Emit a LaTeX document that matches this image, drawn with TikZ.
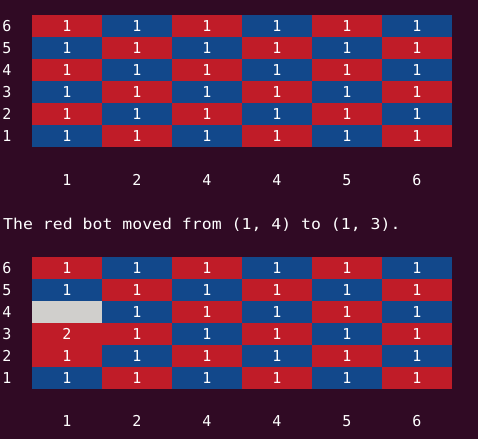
\documentclass[tikz,border=0pt]{standalone}
\usepackage{fontspec}
\setmonofont{DejaVu Sans Mono}
\definecolor{bg}{HTML}{300A24}
\definecolor{cellred}{HTML}{C01C28}
\definecolor{cellblue}{HTML}{12488B}
\definecolor{cellgray}{HTML}{D0CFCC}
\definecolor{fg}{HTML}{FFFFFF}
\begin{document}
\begin{tikzpicture}[x=1pt,y=-1pt,
  cell/.style={minimum width=70pt, minimum height=22pt, inner sep=0pt, outer sep=0pt,
    text=fg, font=\ttfamily\fontsize{15}{15}\selectfont},
  lbl/.style={inner sep=0pt, text=fg, text height=11pt, text depth=0pt,
    font=\ttfamily\fontsize{15}{15}\selectfont},
  msgstyle/.style={anchor=base west, inner sep=0pt, text=fg, font=\ttfamily\fontsize{15}{15}\selectfont}]
\fill[bg] (0,0) rectangle (478,439);
\useasboundingbox (0,0) rectangle (478,439);
\def\keyA{b-1-4}
\def\keyB{b-1-3}
\foreach \g/\top/\colhead in {a/15/180,b/257/421} {
  \foreach \c in {1,...,6} {
    \foreach \r in {1,...,6} {
      \pgfmathtruncatemacro\p{mod(\c+\r,2)}
      \ifnum\p=1 \def\col{cellred}\else\def\col{cellblue}\fi
      \def\txt{1}
      \edef\key{\g-\c-\r}
      \ifx\key\keyA \def\col{cellgray}\def\txt{}\fi
      \ifx\key\keyB \def\col{cellred}\def\txt{2}\fi
      \node[cell, fill=\col] (\g-\c-\r) at ({32+70*(\c-0.5)}, {\top+22*(6-\r)+11}) {\txt};
    }
  }
  \foreach \r in {1,...,6}
    \node[lbl] (\g-row-\r) at (7, {\top+22*(6-\r)+11}) {\r};
  \foreach \c/\t in {1/1,2/2,3/4,4/4,5/5,6/6}
    \node[lbl] (\g-colhead-\c) at ({32+70*(\c-0.5)}, \colhead) {\t};
}
\node[msgstyle] (msg) at (3,229) {\scalebox{1.1}[1]{The red bot moved from (1, 4) to (1, 3).}};
\end{tikzpicture}
\end{document}
